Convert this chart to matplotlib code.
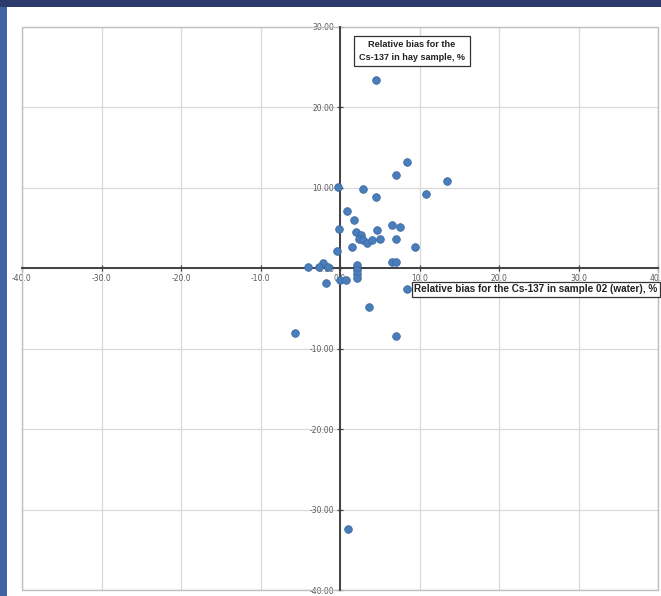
import matplotlib
matplotlib.use("Agg")
import matplotlib.pyplot as plt
from matplotlib.patches import Rectangle
from matplotlib.ticker import FormatStrFormatter

# Relative bias, water sample 02 (%)
water_bias = [4.5, 8.4, 7.0, 13.4, -0.3, 2.9, 4.5, 10.8, 0.9, 1.8,
              -0.1, 6.5, 7.5, 2.0, 2.6, 4.6, 2.4, 2.9, 3.4, 4.0,
              5.0, 7.0, 1.5, 9.4, -0.4, 6.5, 7.0, -2.1, -4.0, -2.7,
              -1.5, 2.1, 2.1, 2.2, 2.2, 0.0, 0.8, -1.8, 8.4, 3.6,
              -5.7, 7.1, 1.0]
# Relative bias, hay sample (%)
hay_bias = [23.4, 13.2, 11.6, 10.8, 10.1, 9.9, 8.9, 9.2, 7.1, 6.0,
            4.9, 5.4, 5.1, 4.5, 4.2, 4.7, 3.6, 3.5, 3.2, 3.5,
            3.6, 3.6, 2.7, 2.7, 2.2, 0.8, 0.8, 0.7, 0.15, 0.1,
            0.15, 0.4, -0.2, -0.7, -1.2, -1.4, -1.4, -1.8, -2.6, -4.8,
            -8.1, -8.4, -32.4]

x_ticks = [-40, -30, -20, -10, 0, 10, 20, 30, 40]
y_ticks = [-40, -30, -20, -10, 0, 10, 20, 30]
y_title = "Relative bias for the\nCs-137 in hay sample, %"
x_title = "Relative bias for the Cs-137 in sample 02 (water), %"

W, H = 661, 596
fig = plt.figure(figsize=(W / 100, H / 100), dpi=100, facecolor="white")

# frame bands
fig.patches.append(Rectangle((0, 0), 7 / W, 1, transform=fig.transFigure,
                             facecolor="#4262A6", edgecolor="none", zorder=0))
fig.patches.append(Rectangle((0, 1 - 7 / H), 1, 7 / H, transform=fig.transFigure,
                             facecolor="#2D3A6C", edgecolor="none", zorder=0))

left, right, top, bottom = 22, 658, 27, 590
ax = fig.add_axes([left / W, 1 - bottom / H, (right - left) / W, (bottom - top) / H])
ax.set_xlim(-40, 40)
ax.set_ylim(-40, 30)
ax.set_xticks(x_ticks)
ax.set_yticks(y_ticks)
ax.grid(True, color="#D9D9D9", linewidth=0.9, zorder=0)
ax.set_axisbelow(True)

for s in ["top", "right"]:
    ax.spines[s].set_visible(False)
ax.spines["left"].set_position(("data", 0))
ax.spines["bottom"].set_position(("data", 0))
for s in ["left", "bottom"]:
    ax.spines[s].set_color("#404040")
    ax.spines[s].set_linewidth(1.4)
    ax.spines[s].set_zorder(2)

# outer border
ax.add_patch(Rectangle((0, 0), 1, 1, transform=ax.transAxes, fill=False,
                       edgecolor="#BFBFBF", linewidth=1.0, clip_on=False, zorder=1))

ax.xaxis.set_major_formatter(FormatStrFormatter("%.1f"))
ax.yaxis.set_major_formatter(FormatStrFormatter("%.2f"))
ax.tick_params(axis="both", direction="inout", length=4, width=0.9, color="#404040",
               labelsize=5.5, labelcolor="#595959", pad=2)

ax.scatter(water_bias, hay_bias, s=30, color="#4A7EBB", edgecolors="#3B69A3",
           linewidths=0.6, zorder=3)

ax.text(412 / W, 1 - 51 / H, y_title, transform=fig.transFigure, ha="center", va="center",
        fontsize=6.6, fontweight="bold", color="#222222", family="Liberation Sans",
        linespacing=1.45,
        bbox=dict(boxstyle="square,pad=0.5", facecolor="white", edgecolor="#333333",
                  linewidth=0.9), zorder=5)
ax.text(414 / W, 1 - 289.5 / H, x_title, transform=fig.transFigure, ha="left", va="center",
        fontsize=7.2, fontweight="bold", color="#222222", family="Liberation Sans",
        bbox=dict(boxstyle="square,pad=0.25", facecolor="white", edgecolor="#333333",
                  linewidth=0.9), zorder=5)

fig.savefig("out.png", dpi=100, facecolor=fig.get_facecolor())
